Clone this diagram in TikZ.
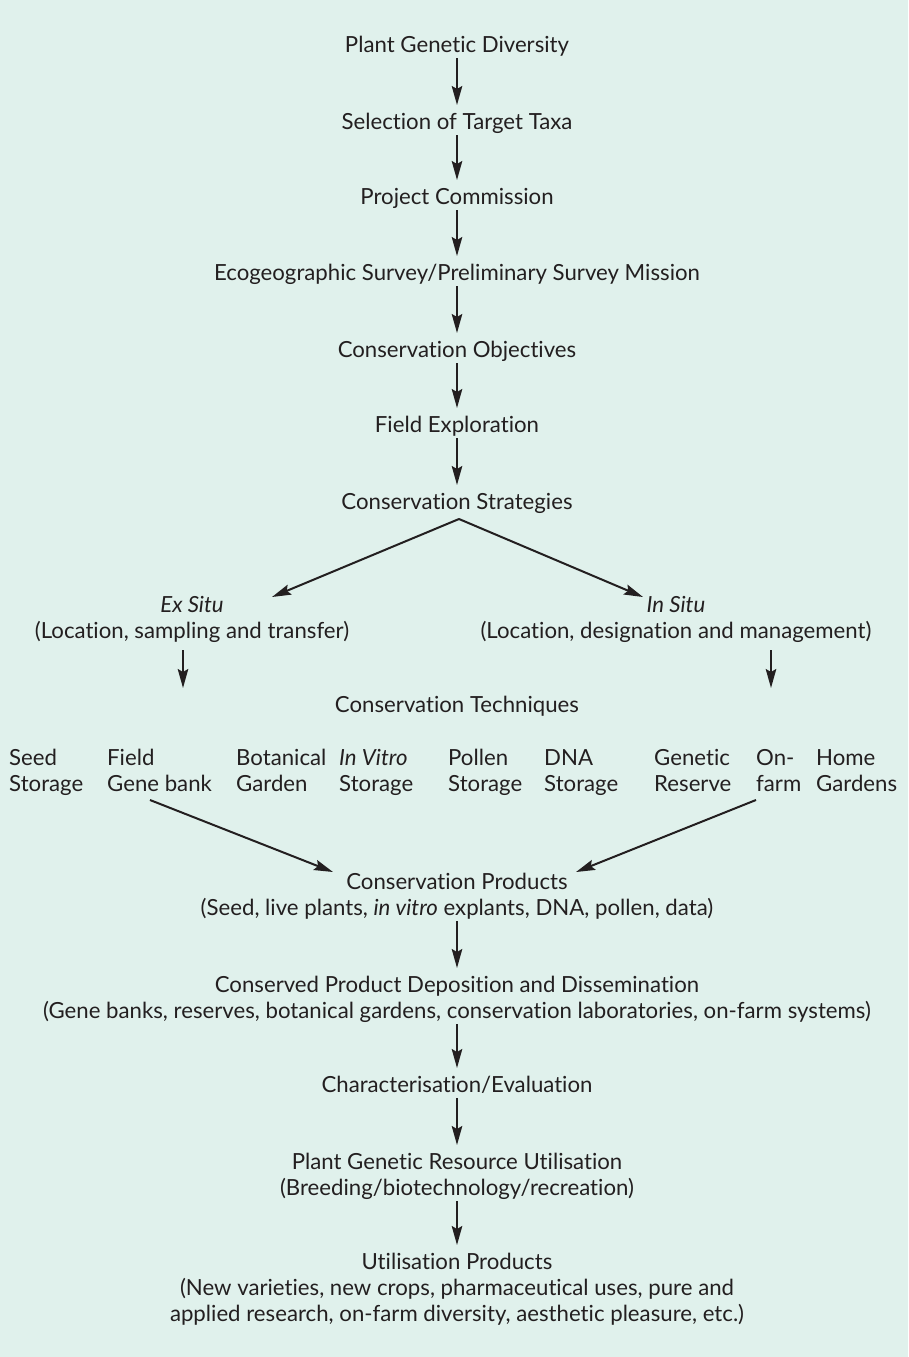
\documentclass[tikz,border=0pt]{standalone}
\usepackage{fontspec}
\setmainfont{Lato}[Ligatures={NoCommon,NoRare},RawFeature={-liga}]
\usetikzlibrary{arrows.meta}
\definecolor{bg}{HTML}{E0F1EC}
\definecolor{ink}{HTML}{231F20}
\newcommand{\fs}{\fontsize{22.2}{26}\selectfont}
\begin{document}
\begin{tikzpicture}[x=1pt,y=-1pt,
  lbl/.style={inner sep=0pt, align=center, font=\fs, text=ink, anchor=north},
  tech/.style={inner sep=0pt, align=left, font=\fs, text=ink, anchor=north west},
  arr/.style={draw=ink, line width=2pt, -{Stealth[length=19pt,width=10.5pt,inset=3pt]}, shorten <=-2.7pt, shorten >=6.3pt},
  darr/.style={draw=ink, line width=2pt, -{Stealth[length=19pt,width=10.5pt,inset=3pt]}}]
\fill[bg] (0,0) rectangle (908,1357);
\useasboundingbox (0,0) rectangle (908,1357);
% main column (y = first line centre - 10.7)
\node[lbl] (pgd) at (457,34.3) {\strut Plant Genetic Diversity};
\node[lbl] (sel) at (457,111.3) {\strut Selection of Target Taxa};
\node[lbl] (pc) at (457,186.3) {\strut Project Commission};
\node[lbl] (eco) at (457,262.3) {\strut Ecogeographic Survey/Preliminary Survey Mission};
\node[lbl] (obj) at (457,339.3) {\strut Conservation Objectives};
\node[lbl] (fe) at (457,414.3) {\strut Field Exploration};
\node[lbl] (cs) at (457,491.3) {\strut Conservation Strategies};
\node[lbl] (ex) at (192,594.3) {\strut\textit{Ex Situ}\\\strut(Location, sampling and transfer)};
\node[lbl] (ins) at (676,594.3) {\strut\textit{In Situ}\\\strut(Location, designation and management)};
\node[lbl] (ct) at (457,694.3) {\strut Conservation Techniques};
% techniques
\node[tech] (t1) at (9,747.3) {\strut Seed\\\strut Storage};
\node[tech] (t2) at (107,747.3) {\strut Field\\\strut Gene bank};
\node[tech] (t3) at (236,747.3) {\strut Botanical\\\strut Garden};
\node[tech] (t4) at (339,747.3) {\strut\textit{In Vitro}\\\strut Storage};
\node[tech] (t5) at (448,747.3) {\strut Pollen\\\strut Storage};
\node[tech] (t6) at (544,747.3) {\strut DNA\\\strut Storage};
\node[tech] (t7) at (654,747.3) {\strut Genetic\\\strut Reserve};
\node[tech] (t8) at (756,747.3) {\strut On-\\\strut farm};
\node[tech] (t9) at (816,747.3) {\strut Home\\\strut Gardens};
% lower column
\node[lbl] (cp) at (457,871.3) {\strut Conservation Products\\\strut(Seed, live plants, \textit{in vitro} explants, DNA, pollen, data)};
\node[lbl] (cpd) at (457,974.3) {\strut Conserved Product Deposition and Dissemination\\\strut(Gene banks, reserves, botanical gardens, conservation laboratories, on-farm systems)};
\node[lbl] (ce) at (457,1074.3) {\strut Characterisation/Evaluation};
\node[lbl] (pgru) at (457,1151.3) {\strut Plant Genetic Resource Utilisation\\\strut(Breeding/biotechnology/recreation)};
\node[lbl] (up) at (457,1251.3) {\strut Utilisation Products\\\strut(New varieties, new crops, pharmaceutical uses, pure and\\\strut applied research, on-farm diversity, aesthetic pleasure, etc.)};
% connector end points
\coordinate (csa) at (459,519);
\coordinate (ext) at (272,597);
\coordinate (intip) at (643,597);
\coordinate (exd) at (183,650);
\coordinate (ind) at (771,650);
\coordinate (lt) at (150,800);
\coordinate (rt) at (756,800);
\coordinate (cpl) at (333,872);
\coordinate (cpr) at (576,872);
% arrows
\draw[arr] (pgd) -- (sel);
\draw[arr] (sel) -- (pc);
\draw[arr] (pc) -- (eco);
\draw[arr] (eco) -- (obj);
\draw[arr] (obj) -- (fe);
\draw[arr] (fe) -- (cs);
\draw[darr] (csa) -- (ext);
\draw[darr] (csa) -- (intip);
\draw[arr, shorten <=0pt] (exd) -- (exd |- ct.north);
\draw[arr, shorten <=0pt] (ind) -- (ind |- ct.north);
\draw[darr] (lt) -- (cpl);
\draw[darr] (rt) -- (cpr);
\draw[arr] (cp) -- (cpd);
\draw[arr] (cpd) -- (ce);
\draw[arr] (ce) -- (pgru);
\draw[arr] (pgru) -- (up);
\end{tikzpicture}
\end{document}
